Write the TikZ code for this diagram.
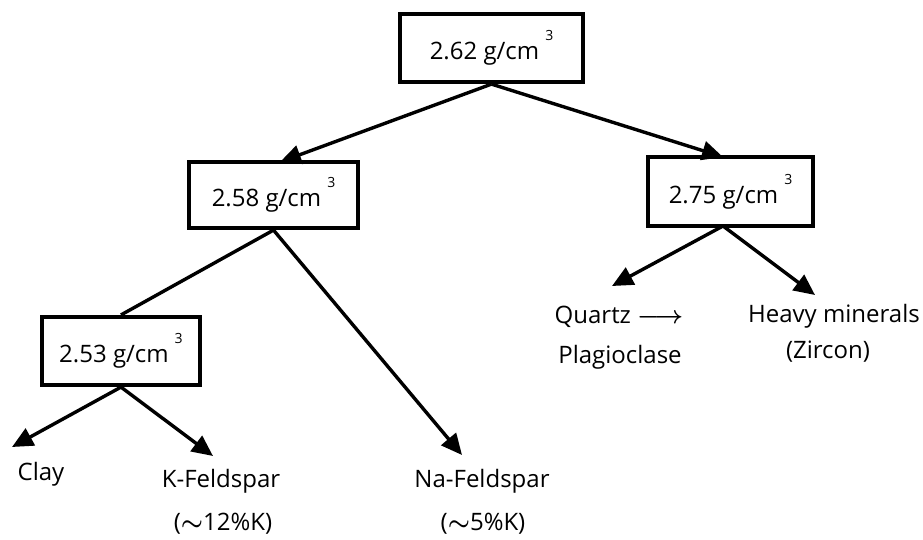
\documentclass[tikz,border=0pt]{standalone}
\usepackage{fontspec}
\setmainfont{Open Sans}
\usetikzlibrary{arrows.meta}
\tikzset{
  dbox/.style={draw, line width=4.2pt, minimum width=#1, minimum height=67pt,
    inner sep=0pt, font=\fontsize{24}{29}\selectfont},
  arr/.style={line width=3.4pt, -{Triangle[length=21pt,width=19pt]}},
  link/.style={line width=3.4pt},
  lbl/.style={font=\fontsize{24}{29}\selectfont, inner sep=0pt, anchor=base}
}
% density value with a raised unit exponent
\newcommand\dens[1]{#1 g/cm\hspace{6pt}\raisebox{19pt}{\fontsize{14}{14}\selectfont 3}}
\begin{document}
\begin{tikzpicture}[x=1pt, y=-1pt]
\useasboundingbox (0,0) rectangle (923,539);

% density boxes
\node[dbox=183pt, minimum height=68pt] (top) at (491.5,48) {\dens{2.62}};
\node[dbox=169pt, minimum height=66pt] (b258) at (273.5,195) {\dens{2.58}};
\node[dbox=165pt, minimum height=69pt] (b275) at (730.5,191.5) {\dens{2.75}};
\node[dbox=158pt, minimum height=68pt] (b253) at (121,351) {\dens{2.53}};

% mineral labels
\node[lbl] (clay) at (41,480) {Clay};
\node[lbl] (kfs) at (221,487) {K-Feldspar};
\node[lbl] (kfsk) at (223,530) {({\boldmath$\sim$}12\%K)};
\node[lbl] (nafs) at (482,487) {Na-Feldspar};
\node[lbl] (nafsk) at (483,530) {({\boldmath$\sim$}5\%K)};
\node[lbl] (qz) at (619,323) {Quartz {\boldmath$\longrightarrow$}};
\node[lbl] (plag) at (620,363) {Plagioclase};
\node[lbl] (heavy) at (834,322) {Heavy minerals};
\node[lbl] (zirc) at (828,358) {(Zircon)};

% arrow tips
\coordinate (t258) at (280,162);
\coordinate (t275) at (723,157);
\coordinate (tna) at (462,455);
\coordinate (tqz) at (612,286);
\coordinate (thv) at (815,295);
\coordinate (tclay) at (12,447);
\coordinate (tkfs) at (213,456);
\coordinate (s275) at (723,226);

% connectors
\draw[arr] (top.south) -- (t258);
\draw[arr] (top.south) -- (t275);
\draw[link] (b258.south) -- (b253.north);
\draw[arr] (b258.south) -- (tna);
\draw[arr] (s275) -- (tqz);
\draw[arr] (s275) -- (thv);
\draw[arr] (b253.south) -- (tclay);
\draw[arr] (b253.south) -- (tkfs);
\end{tikzpicture}
\end{document}
